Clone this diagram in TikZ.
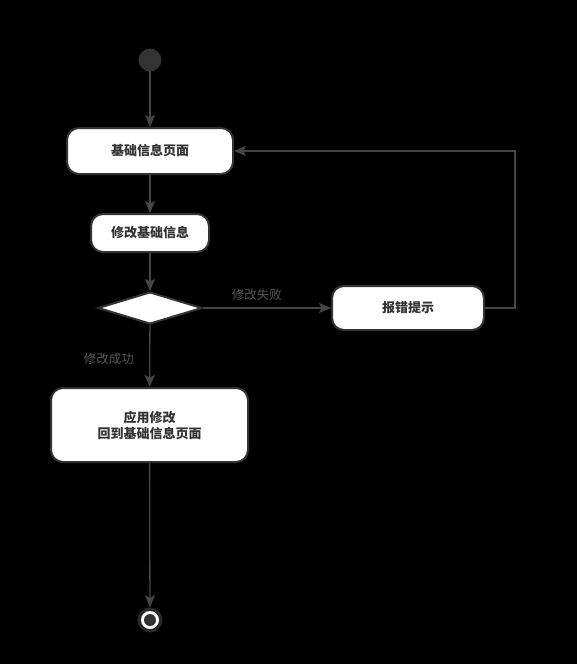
\documentclass[tikz,border=0pt]{standalone}
\usepackage{fontspec}
\newfontfamily\cjk{Noto Sans CJK SC}
\usetikzlibrary{shapes.geometric,arrows.meta}
\definecolor{edgec}{HTML}{454545}
\definecolor{boxc}{HTML}{333333}
\definecolor{labc}{HTML}{555555}
\tikzset{
  act/.style={draw=boxc,line width=2pt,fill=white,rounded corners=12pt,font=\cjk\bfseries\fontsize{13}{16}\selectfont,text=boxc,align=center,inner sep=0pt},
  flow/.style={draw=edgec,line width=1.3pt,-{Stealth[length=12pt,width=10pt,inset=2.5pt]}},
  lab/.style={font=\cjk\fontsize{12.5}{15}\selectfont,text=labc}
}
\begin{document}
\begin{tikzpicture}[x=1pt,y=-1pt]
\fill[black] (0,0) rectangle (577,664);
\useasboundingbox (0,0) rectangle (577,664);
\node[circle,fill=boxc,draw=black!80,line width=0.8pt,minimum size=22pt,inner sep=0pt] (start) at (150,60) {};
\node[act,minimum width=166pt,minimum height=46pt] (info) at (150,151) {基础信息页面};
\node[act,minimum width=118pt,minimum height=38pt] (edit) at (150,233) {修改基础信息};
\node[diamond,draw=boxc,line width=2pt,fill=white,minimum width=104pt,minimum height=32pt,aspect=3.25,inner sep=0pt] (dec) at (150,308) {};
\node[act,minimum width=152pt,minimum height=44pt] (err) at (408,308) {报错提示};
\node[act,minimum width=197pt,minimum height=74pt] (apply) at (149.5,425) {应用修改\\回到基础信息页面};
\node[circle,fill=boxc!80!black,minimum size=25pt,inner sep=0pt] (end) at (150,620) {};
\fill[white] (end.center) circle (9pt);
\fill[boxc] (end.center) circle (6pt);
\coordinate (c1) at (515,308);
\coordinate (c2) at (515,151);
\draw[flow] (start) -- (info);
\draw[flow] (info) -- (edit);
\draw[flow] (edit) -- (dec);
\draw[flow] (dec) -- node[lab,above,pos=0.42,yshift=3pt]{修改失败} (err);
\draw[flow] (dec) -- node[lab,left,pos=0.5,xshift=-12pt,yshift=-3pt]{修改成功} (apply);
\draw[flow] (err.east) -- (c1) -- (c2) -- (info.east);
\draw[flow] (apply) -- (end);
\end{tikzpicture}
\end{document}
